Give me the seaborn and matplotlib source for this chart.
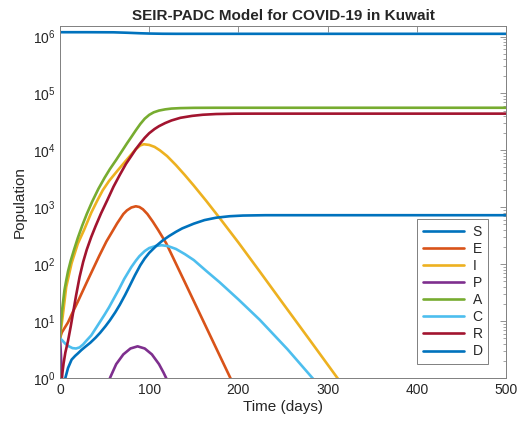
import numpy as np
import pandas as pd
import matplotlib
matplotlib.use('Agg')
import matplotlib.pyplot as plt
import seaborn as sns
from matplotlib.ticker import LogLocator, NullFormatter

# values (time in days, population)
names = ['S', 'E', 'I', 'P', 'A', 'C', 'R', 'D']
colors = ['#0072BD', '#D95319', '#EDB120', '#7E2F8E', '#77AC30', '#4DBEEE', '#A2142F', '#0072BD']

t_S = [0, 30, 60, 75, 90, 100, 115, 130, 200, 300, 500]
S = [1.19e6, 1.19e6, 1.185e6, 1.165e6, 1.14e6, 1.128e6, 1.118e6, 1.115e6, 1.115e6, 1.115e6, 1.115e6]

t_E = [0, 2, 5, 9, 13, 20, 30, 44, 52, 58, 64, 71, 75, 80, 85, 89, 93, 98, 104, 110, 119,
       140, 160, 180, 191, 200]
E = [5, 6.3, 7.5, 9.5, 13, 22, 48, 140, 250, 360, 520, 760, 880, 990, 1040, 1010, 920, 760, 560, 400, 234,
     48, 10.5, 2.3, 1.0, 0.5]

t_I = [0, 1, 3, 7, 13, 20, 27, 35, 42, 48, 55, 65, 74, 80, 85, 90, 94, 100, 106, 112, 120,
       130, 140, 150, 164, 180, 200, 224, 250, 280, 311, 320]
I = [5, 7, 12, 40, 104, 230, 400, 800, 1330, 2000, 2900, 4500, 6600, 8500, 1.05e4, 1.22e4, 1.28e4,
     1.245e4, 1.15e4, 1.0e4, 7940, 5500, 3670, 2400, 1290, 617, 240, 74, 20.4, 4.65, 1.0, 0.65]

t_P = [0, 0.5, 1, 1.5, 2, 3, 50, 56, 63, 71, 79, 87, 95, 103, 111, 116, 119, 123]
P = [5, 3.8, 2.6, 1.8, 1.2, 0.5, 0.5, 1.0, 1.75, 2.6, 3.3, 3.6, 3.3, 2.6, 1.75, 1.25, 1.0, 0.7]

t_A = [0, 1, 2, 3, 5, 7, 9, 12, 16, 20, 25, 30, 36, 43, 50, 56, 63, 70, 75, 80, 85, 90, 95,
       100, 105, 111, 118, 125, 135, 150, 175, 500]
A = [5, 9, 14, 19, 35, 52, 75, 115, 185, 290, 480, 760, 1250, 2100, 3300, 4700, 6800, 1.0e4,
     1.32e4, 1.72e4, 2.25e4, 2.9e4, 3.6e4, 4.2e4, 4.65e4, 5.0e4, 5.25e4, 5.42e4, 5.52e4, 5.58e4,
     5.6e4, 5.6e4]

t_C = [0, 3, 6, 10, 14, 18, 22, 26, 30, 35, 39, 45, 50, 55, 61, 66, 72, 76, 80, 85, 89, 95, 100,
       107, 114, 121, 130, 140, 150, 164, 179, 200, 224, 255, 283, 300]
C = [5, 4.5, 4.0, 3.6, 3.35, 3.3, 3.45, 3.9, 4.6, 5.6, 7, 9.8, 13, 17.5, 26, 36, 55, 70, 89, 115,
     138, 170, 192, 208, 215, 208, 185, 150, 118, 76, 48, 24, 10.5, 3.2, 1.0, 0.5]

t_R = [0, 2, 4, 6, 9, 12, 15, 18, 22, 26, 30, 35, 40, 46, 53, 60, 67, 74, 80, 85, 90, 95, 100,
       106, 111, 118, 125, 135, 148, 160, 175, 195, 220, 500]
R = [0.2, 1, 1.8, 2.8, 4.5, 8, 15, 28, 60, 110, 180, 300, 470, 780, 1330, 2300, 3700, 5800, 8000,
     1.05e4, 1.33e4, 1.66e4, 2.0e4, 2.37e4, 2.66e4, 3.02e4, 3.35e4, 3.73e4, 4.03e4, 4.22e4, 4.345e4,
     4.405e4, 4.415e4, 4.415e4]

t_D = [0, 3, 6, 9, 13, 17, 20, 24, 28, 34, 40, 45, 51, 56, 62, 67, 73, 78, 84, 90, 95, 100, 108,
       115, 122, 130, 137, 150, 162, 175, 190, 205, 230, 500]
D = [0.2, 0.5, 1, 1.5, 2.1, 2.45, 2.7, 3.1, 3.5, 4.17, 5.13, 6.24, 8.13, 10.35, 14.3, 19.3, 28.8,
     41.2, 63.8, 95.5, 126, 158, 210, 260, 310, 370, 425, 515, 595, 655, 695, 715, 725, 725]

series = {'S': (t_S, S), 'E': (t_E, E), 'I': (t_I, I), 'P': (t_P, P),
          'A': (t_A, A), 'C': (t_C, C), 'R': (t_R, R), 'D': (t_D, D)}

rows = []
for k in names:
    tt, vv = series[k]
    rows.append(pd.DataFrame({'t': tt, 'value': vv, 'comp': k}))
df = pd.concat(rows, ignore_index=True)

sns.set_theme(style='white')
plt.rcParams['font.family'] = ['Liberation Sans', 'DejaVu Sans']
plt.rcParams['mathtext.fontset'] = 'custom'
plt.rcParams['mathtext.rm'] = 'Liberation Sans'

fig = plt.figure(figsize=(5.2, 4.26), dpi=100)
ax = fig.add_axes([60 / 520, 48 / 426, 446 / 520, 352 / 426])

sns.lineplot(data=df, x='t', y='value', hue='comp', hue_order=names,
             palette=colors, estimator=None, sort=False, lw=1.9, ax=ax)

ax.set_yscale('log')
ax.set_xlim(0, 500)
ax.set_ylim(1, 1.53e6)
ax.set_xticks([0, 100, 200, 300, 400, 500])
ax.yaxis.set_major_locator(LogLocator(base=10, numticks=10))
ax.yaxis.set_minor_locator(LogLocator(base=10, subs=np.arange(2, 10), numticks=20))
ax.yaxis.set_minor_formatter(NullFormatter())

for sp in ax.spines.values():
    sp.set_color('#808080')
    sp.set_linewidth(0.7)
ax.tick_params(which='both', direction='in', top=True, right=True, colors='#808080',
               labelcolor='#262626', labelsize=10)
ax.tick_params(which='major', length=4, width=0.6)
ax.tick_params(which='minor', length=2.2, width=0.5)

ax.set_title('SEIR-PADC Model for COVID-19 in Kuwait', fontsize=11, fontweight='bold', pad=4)
ax.set_xlabel('Time (days)', fontsize=11, color='#262626', labelpad=2)
ax.set_ylabel('Population', fontsize=11, color='#262626', labelpad=4)

handles, labels = ax.get_legend_handles_labels()
leg = ax.legend(handles, labels, loc='lower right', bbox_to_anchor=(0.96, 0.04),
                borderaxespad=0, fontsize=10, handlelength=3.0, handletextpad=0.6,
                labelspacing=0.22, fancybox=False, framealpha=1, edgecolor='#808080',
                borderpad=0.4)
leg.get_frame().set_linewidth(0.7)

fig.savefig('out.png', dpi=100)
